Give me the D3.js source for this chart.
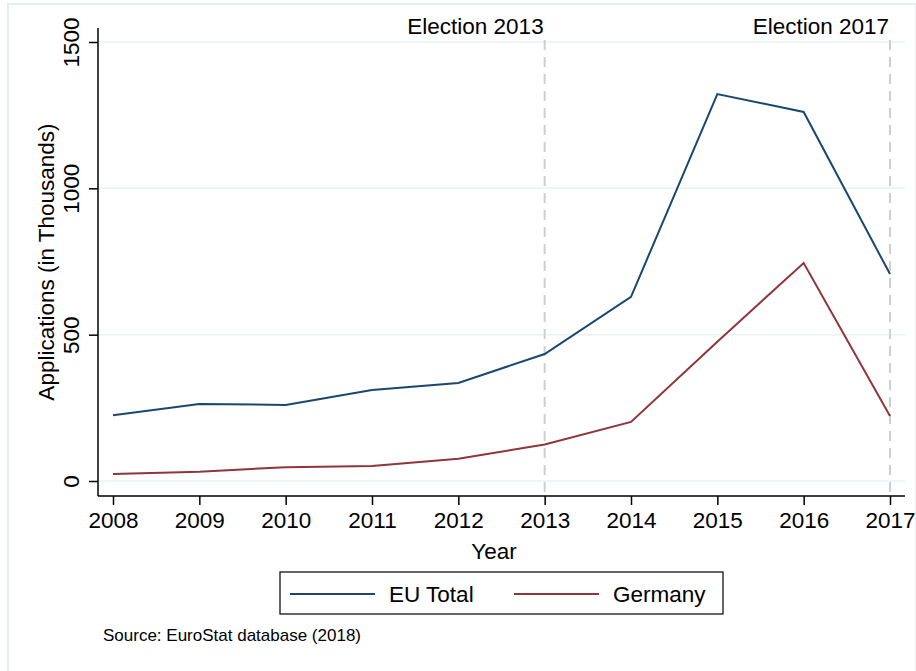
<!DOCTYPE html>
<html>
<head>
<meta charset="utf-8">
<script src="https://cdn.jsdelivr.net/npm/d3@7"></script>
<style>
  body { margin: 0; background: #fff; }
  svg { display: block; font-family: "Liberation Sans", Arial, sans-serif; }
</style>
</head>
<body>
<div id="chart"></div>
<script>
// data (thousands of applications)
var years = [2008, 2009, 2010, 2011, 2012, 2013, 2014, 2015, 2016, 2017];
var euTotal = [225, 263, 260, 311, 335, 434, 629, 1322, 1261, 707];
var germany = [24, 32, 47, 51, 76, 125, 202, 476, 745, 222];
var yTicks = [0, 500, 1000, 1500];
var elections = [2013, 2017];
var seriesNames = ["EU Total", "Germany"];
var seriesColors = ["#1a476f", "#90353b"];

var W = 916, H = 671;

var svg = d3.select("#chart")
  .append("svg")
  .attr("width", W)
  .attr("height", H);

// outer frame
svg.append("rect")
  .attr("x", 8).attr("y", 4)
  .attr("width", W - 8).attr("height", H)
  .attr("fill", "#fff")
  .attr("stroke", "#e6eef2")
  .attr("stroke-width", 2);

var x = d3.scaleLinear().domain([2008, 2017]).range([113, 890]);
var y = d3.scaleLinear().domain([0, 1500]).range([481, 42]);

var plotLeft = 98, plotRight = 905, plotBottom = 496, plotTop = 28;
var fs = "22.5px";

// gridlines
svg.append("g")
  .selectAll("line")
  .data(yTicks)
  .enter()
  .append("line")
  .attr("x1", plotLeft).attr("x2", plotRight)
  .attr("y1", d => y(d)).attr("y2", d => y(d))
  .attr("stroke", "#eaf2f3")
  .attr("stroke-width", 1.5);

// election lines
svg.append("g")
  .selectAll("line")
  .data(elections)
  .enter()
  .append("line")
  .attr("x1", d => x(d)).attr("x2", d => x(d))
  .attr("y1", 40).attr("y2", plotBottom)
  .attr("stroke", "#cfcfcf")
  .attr("stroke-width", 2)
  .attr("stroke-dasharray", "10,7");

svg.append("g")
  .selectAll("text")
  .data(elections)
  .enter()
  .append("text")
  .attr("x", d => x(d) - 1)
  .attr("y", 34)
  .attr("text-anchor", "end")
  .style("font-size", fs)
  .text(d => "Election " + d);

// axes
var yAxis = d3.axisLeft(y).tickValues(yTicks).tickFormat(d3.format("d")).tickSize(9).tickSizeOuter(0);
var gy = svg.append("g")
  .attr("transform", "translate(" + plotLeft + ",0)")
  .call(yAxis);
gy.select(".domain").remove();
gy.append("line")
  .attr("x1", 0).attr("x2", 0)
  .attr("y1", plotTop).attr("y2", plotBottom)
  .attr("stroke", "#000").attr("stroke-width", 1.5);
gy.selectAll(".tick line").attr("stroke-width", 1.5);
gy.selectAll(".tick text")
  .attr("x", 0).attr("dy", 0)
  .attr("transform", "translate(-19,0) rotate(-90)")
  .attr("text-anchor", "middle")
  .attr("fill", "#000")
  .style("font-size", fs)
  .style("font-family", "Liberation Sans, Arial, sans-serif");

var xAxis = d3.axisBottom(x).tickValues(years).tickFormat(d3.format("d")).tickSize(9).tickSizeOuter(0);
var gx = svg.append("g")
  .attr("transform", "translate(0," + plotBottom + ")")
  .call(xAxis);
gx.select(".domain").remove();
gx.append("line")
  .attr("x1", plotLeft).attr("x2", plotRight)
  .attr("stroke", "#000").attr("stroke-width", 1.5);
gx.selectAll(".tick line").attr("stroke-width", 1.5);
gx.selectAll(".tick text")
  .attr("y", 16)
  .attr("fill", "#000")
  .style("font-size", fs)
  .style("font-family", "Liberation Sans, Arial, sans-serif");

// axis titles
svg.append("text")
  .attr("x", 494).attr("y", 559)
  .attr("text-anchor", "middle")
  .style("font-size", fs)
  .text("Year");

svg.append("text")
  .attr("transform", "translate(54,262) rotate(-90)")
  .attr("text-anchor", "middle")
  .style("font-size", fs)
  .text("Applications (in Thousands)");

// lines
var line = d3.line()
  .x((d, i) => x(years[i]))
  .y(d => y(d));

[euTotal, germany].forEach(function (vals, i) {
  svg.append("path")
    .datum(vals)
    .attr("d", line)
    .attr("fill", "none")
    .attr("stroke", seriesColors[i])
    .attr("stroke-width", 2)
    .attr("stroke-linejoin", "miter");
});

// legend
var legend = svg.append("g");
legend.append("rect")
  .attr("x", 280).attr("y", 572)
  .attr("width", 443).attr("height", 42)
  .attr("fill", "#fff")
  .attr("stroke", "#000")
  .attr("stroke-width", 1.2);

var legendX = [290, 514];
seriesNames.forEach(function (name, i) {
  legend.append("line")
    .attr("x1", legendX[i]).attr("x2", legendX[i] + 85)
    .attr("y1", 594).attr("y2", 594)
    .attr("stroke", seriesColors[i])
    .attr("stroke-width", 2);
  legend.append("text")
    .attr("x", legendX[i] + 99).attr("y", 602)
    .style("font-size", fs)
    .text(name);
});

// source note
svg.append("text")
  .attr("x", 103).attr("y", 641)
  .style("font-size", "17px")
  .text("Source: EuroStat database (2018)");
</script>
</body>
</html>
